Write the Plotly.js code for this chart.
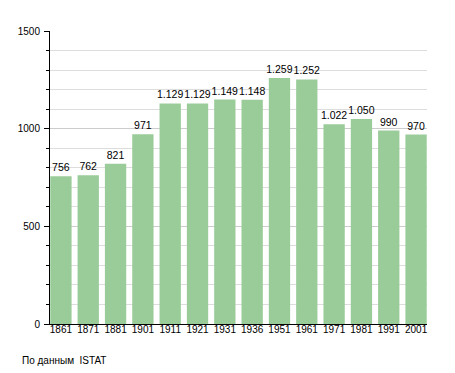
<!DOCTYPE html>
<html><head><meta charset="utf-8">
<script src="https://cdn.plot.ly/plotly-3.0.1.min.js"></script>
<style>html,body{margin:0;padding:0;background:#fff}#c{width:455px;height:373px}</style>
</head><body><div id="c"></div>
<script>
const years = ['1861','1871','1881','1901','1911','1921','1931','1936','1951','1961','1971','1981','1991','2001'];
const population = [756, 762, 821, 971, 1129, 1129, 1149, 1148, 1259, 1252, 1022, 1050, 990, 970];
const labels = ['756','762','821','971','1.129','1.129','1.149','1.148','1.259','1.252','1.022','1.050','990','970'];
const source = 'По данным&nbsp;&nbsp;ISTAT';

Plotly.newPlot('c', [{
  type: 'bar', x: years, y: population, text: labels,
  textposition: 'outside', cliponaxis: false, constraintext: 'none',
  textfont: {family: 'Liberation Sans, Arial, sans-serif', size: 10.5, color: '#000'},
  marker: {color: '#99cc99'}, width: 0.78, hoverinfo: 'none'
}], {
  width: 455, height: 373,
  margin: {l: 50, r: 28, t: 31, b: 49},
  paper_bgcolor: '#fff', plot_bgcolor: '#fff',
  font: {family: 'Liberation Sans, Arial, sans-serif', size: 10, color: '#000'},
  showlegend: false,
  xaxis: {type: 'category', range: [-0.4, 13.4], showline: true, linecolor: '#000', linewidth: 1, ticks: '', showgrid: false,
          tickfont: {size: 10}, ticklabelstandoff: -4},
  yaxis: {range: [0, 1500], dtick: 500, showline: true, linecolor: '#000', linewidth: 1,
          ticks: 'outside', ticklen: 5, tickcolor: '#000', showgrid: true, gridcolor: '#cccccc',
          zeroline: false, tickfont: {size: 10}, ticklabelstandoff: 2,
          minor: {dtick: 100, ticks: 'outside', ticklen: 3, tickcolor: '#000', showgrid: true, gridcolor: '#dddddd'}},
  annotations: [{text: source, xref: 'paper', yref: 'paper', x: -0.08, y: -0.126, xanchor: 'left', yanchor: 'middle',
                 showarrow: false, font: {size: 10}}]
}, {displayModeBar: false, staticPlot: true});
</script></body></html>
